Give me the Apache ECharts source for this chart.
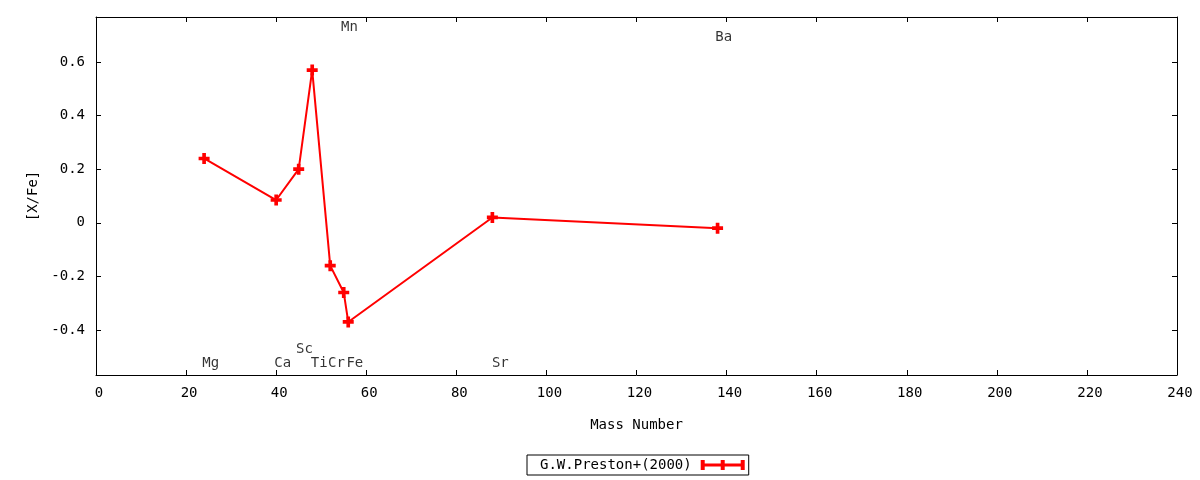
<!DOCTYPE html>
<html>
<head>
<meta charset="utf-8">
<script src="https://cdn.jsdelivr.net/npm/echarts@6/dist/echarts.min.js"></script>
<style>
html,body{margin:0;padding:0;background:#fff;}
#chart{width:1200px;height:480px;}
</style>
</head>
<body>
<div id="chart"></div>
<script>
// Data
const seriesName = 'G.W.Preston+(2000)';
const massNumbers = [24, 40, 45, 48, 52, 55, 56, 88, 138];
const xFeValues = [0.24, 0.085, 0.20, 0.57, -0.16, -0.26, -0.37, 0.02, -0.02];

const elementNames = ['Mg', 'Ca', 'Sc', 'Ti', 'Cr', 'Mn', 'Fe', 'Sr', 'Ba'];
const labelX = [23.6, 39.6, 44.4, 47.7, 51.5, 54.4, 55.6, 87.9, 137.5];
const labelY = [-0.525, -0.525, -0.472, -0.525, -0.525, 0.73, -0.525, -0.525, 0.693];

const xTicks = [0, 20, 40, 60, 80, 100, 120, 140, 160, 180, 200, 220, 240];
const yTicks = [-0.4, -0.2, 0, 0.2, 0.4, 0.6];

const FONT = 'DejaVu Sans Mono';
const X_MIN = 0, X_MAX = 240, Y_MIN = -0.568, Y_MAX = 0.768;

const plusPath = 'path://M4,0H8V4H12V8H8V12H4V8H0V4H4Z';
const legendIcon = 'path://M0,0H4V10H0ZM20,0H24V10H20ZM40,0H44V10H40ZM0,3.5H44V6.5H0Z';

const chart = echarts.init(document.getElementById('chart'), null, {renderer: 'canvas'});

const axisLineStyle = {lineStyle: {color: '#000', width: 1}};
const tickStyle = {inside: true, length: 5, lineStyle: {color: '#000', width: 1}};

const option = {
  animation: false,
  backgroundColor: '#fff',
  textStyle: {fontFamily: FONT},
  grid: {left: 96, right: 23, top: 17, bottom: 105, containLabel: false},
  legend: {
    data: [{name: seriesName, icon: legendIcon}],
    left: 527, top: 455,
    align: 'right',
    itemWidth: 44, itemHeight: 10,
    padding: [3, 4, 3, 13],
    borderColor: '#000', borderWidth: 1, borderRadius: 0,
    textStyle: {fontFamily: FONT, fontSize: 14, color: '#000', padding: [0, 4, 0, 0]},
    selectedMode: false
  },
  xAxis: [
    {
      type: 'value', position: 'bottom', min: X_MIN, max: X_MAX, interval: 20,
      name: 'Mass Number', nameLocation: 'middle', nameGap: 43,
      nameTextStyle: {fontFamily: FONT, fontSize: 14, color: '#000'},
      axisLine: {show: true, onZero: false, ...axisLineStyle},
      axisTick: {show: true, ...tickStyle, customValues: xTicks},
      axisLabel: {show: true, margin: 11, fontFamily: FONT, fontSize: 14, color: '#000', customValues: xTicks,
        padding: [0, 0, 0, 6]},
      splitLine: {show: false}
    },
    {
      type: 'value', position: 'top', min: X_MIN, max: X_MAX, interval: 20,
      axisLine: {show: true, onZero: false, ...axisLineStyle},
      axisTick: {show: true, ...tickStyle, customValues: xTicks},
      axisLabel: {show: false},
      splitLine: {show: false}
    }
  ],
  yAxis: [
    {
      type: 'value', position: 'left', min: Y_MIN, max: Y_MAX,
      name: '[X/Fe]', nameLocation: 'middle', nameGap: 56, nameRotate: 90,
      nameTextStyle: {fontFamily: FONT, fontSize: 14, color: '#000'},
      axisLine: {show: true, onZero: false, ...axisLineStyle},
      axisTick: {show: true, ...tickStyle, customValues: yTicks},
      axisLabel: {show: true, margin: 11, fontFamily: FONT, fontSize: 14, color: '#000', customValues: yTicks,
        formatter: v => String(Math.round(v * 10) / 10)},
      splitLine: {show: false}
    },
    {
      type: 'value', position: 'right', min: Y_MIN, max: Y_MAX,
      axisLine: {show: true, onZero: false, ...axisLineStyle},
      axisTick: {show: true, ...tickStyle, customValues: yTicks},
      axisLabel: {show: false},
      splitLine: {show: false}
    }
  ],
  series: [
    {
      name: seriesName,
      type: 'line',
      xAxisIndex: 0, yAxisIndex: 0,
      data: massNumbers.map((m, i) => [m, xFeValues[i]]),
      symbol: plusPath,
      symbolSize: 11,
      showAllSymbol: true,
      lineStyle: {color: '#ff0000', width: 2},
      itemStyle: {color: '#ff0000'},
      z: 3
    },
    {
      name: 'labels',
      type: 'scatter',
      xAxisIndex: 0, yAxisIndex: 0,
      data: elementNames.map((n, i) => ({name: n, value: [labelX[i], labelY[i]]})),
      symbolSize: 0,
      silent: true,
      label: {
        show: true, position: 'right', distance: 0,
        formatter: p => p.name,
        fontFamily: FONT, fontSize: 14, color: '#000'
      },
      z: 4
    }
  ]
};
chart.setOption(option);
</script>
</body>
</html>
